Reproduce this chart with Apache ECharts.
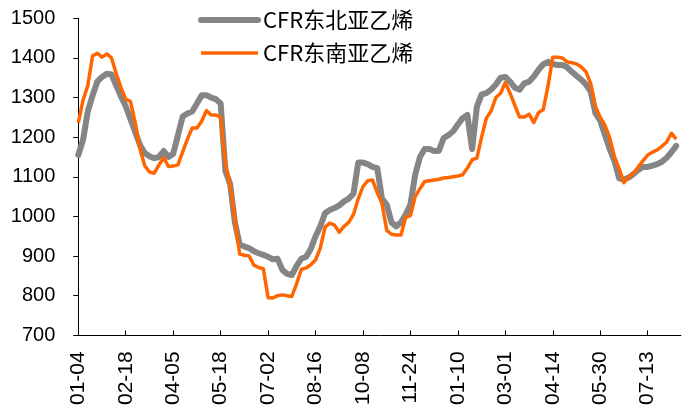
<!DOCTYPE html>
<html>
<head>
<meta charset="utf-8">
<script src="https://cdn.jsdelivr.net/npm/echarts@6/dist/echarts.min.js"></script>
<style>
html,body{margin:0;padding:0;background:#fff;}
#chart{width:685px;height:409px;}
</style>
</head>
<body>
<div id="chart"></div>
<script>
// Tick labels shown on the x axis (one every 10 data points)
const tickLabels = ['01-04','02-18','04-05','05-18','07-02','08-16','10-08','11-24','01-10','03-01','04-14','05-30','07-13'];
const seriesNames = ['CFR东北亚乙烯', 'CFR东南亚乙烯'];

// CFR 东北亚乙烯 (USD/t), sampled every ~1/10 of a tick interval
const neAsia = [
  1155,1193,1265,1305,1340,1352,1360,1358,1330,1303,
  1278,1245,1213,1180,1160,1152,1147,1150,1165,1150,
  1158,1205,1252,1260,1265,1285,1306,1306,1300,1296,
  1285,1115,1082,985,930,924,920,912,907,903,
  898,892,893,865,855,852,875,893,898,918,
  950,975,1008,1016,1021,1028,1038,1045,1058,1136,
  1136,1132,1125,1122,1045,1030,985,975,985,1005,
  1030,1105,1150,1170,1170,1165,1166,1198,1205,1215,
  1232,1248,1256,1170,1277,1308,1311,1320,1333,1350,
  1352,1340,1325,1320,1336,1340,1353,1370,1384,1390,
  1385,1382,1382,1377,1365,1355,1345,1333,1315,1260,
  1242,1205,1170,1140,1096,1093,1098,1107,1117,1125,
  1125,1128,1132,1138,1148,1162,1178
];

// CFR 东南亚乙烯 (USD/t)
const seAsia = [
  1236,1294,1330,1405,1412,1402,1410,1400,1360,1325,
  1296,1290,1236,1170,1128,1112,1109,1130,1148,1126,
  1127,1130,1163,1195,1223,1223,1240,1267,1256,1256,
  1250,1135,1080,995,905,902,900,877,871,868,
  795,794,800,802,800,798,830,866,870,878,
  890,920,973,983,978,960,975,985,1005,1045,
  1075,1090,1092,1060,1033,965,955,953,953,998,
  1002,1050,1070,1088,1090,1092,1094,1097,1098,1100,
  1102,1105,1122,1143,1147,1200,1248,1266,1300,1311,
  1338,1311,1280,1251,1251,1258,1237,1262,1270,1330,
  1402,1402,1400,1390,1388,1385,1377,1365,1335,1277,
  1250,1230,1198,1150,1120,1085,1100,1108,1125,1140,
  1155,1162,1168,1177,1188,1210,1195
];

const POINTS_PER_TICK = 10;
const TOTAL_POINTS = 128;
const categories = [];
for (let i = 0; i < TOTAL_POINTS; i++) categories.push('p' + i);

const grayColor = '#858585';
const orangeColor = '#ff6600';
const axisColor = '#000';

const chart = echarts.init(document.getElementById('chart'), null, {renderer: 'canvas'});
chart.setOption({
  animation: false,
  backgroundColor: '#fff',
  grid: {left: 78.3, top: 18.3, width: 602.6, height: 317, containLabel: false},
  legend: {
    left: 198, top: 8, padding: 0,
    orient: 'vertical',
    itemWidth: 57, itemHeight: 14, itemGap: 9,
    textStyle: {fontFamily: '"Noto Sans CJK SC", sans-serif', fontSize: 22, lineHeight: 24, color: '#000'},
    itemStyle: {opacity: 0},
    data: [
      {name: seriesNames[0], itemStyle: {opacity: 0}, lineStyle: {width: 6, color: grayColor, cap: 'round'}},
      {name: seriesNames[1], itemStyle: {opacity: 0}, lineStyle: {width: 3.5, color: orangeColor}}
    ]
  },
  xAxis: {
    type: 'category',
    data: categories,
    boundaryGap: false,
    axisLine: {lineStyle: {color: axisColor, width: 1}},
    axisTick: {show: true, inside: true, length: 5, interval: POINTS_PER_TICK - 1, lineStyle: {color: axisColor}},
    axisLabel: {
      interval: POINTS_PER_TICK - 1,
      rotate: 90,
      margin: 16,
      fontFamily: '"Liberation Sans", Arial, sans-serif',
      fontSize: 21,
      color: '#000',
      formatter: function (v, idx) { return tickLabels[Math.round(idx / POINTS_PER_TICK)] || ''; }
    },
    splitLine: {show: false}
  },
  yAxis: {
    type: 'value',
    min: 700, max: 1500, interval: 100,
    axisLine: {show: true, lineStyle: {color: axisColor, width: 1}},
    axisTick: {show: true, inside: false, length: 5, lineStyle: {color: axisColor}},
    axisLabel: {
      margin: 23,
      fontFamily: '"Liberation Sans", Arial, sans-serif',
      fontSize: 20,
      color: '#000',
      formatter: function (v) { return String(v); }
    },
    splitLine: {show: false}
  },
  series: [
    {
      name: seriesNames[0], type: 'line', data: neAsia,
      symbol: 'none', color: grayColor,
      lineStyle: {width: 6, color: grayColor, cap: 'round', join: 'round'}
    },
    {
      name: seriesNames[1], type: 'line', data: seAsia,
      symbol: 'none', color: orangeColor,
      lineStyle: {width: 3.5, color: orangeColor, join: 'round'}
    }
  ]
});
</script>
</body>
</html>
